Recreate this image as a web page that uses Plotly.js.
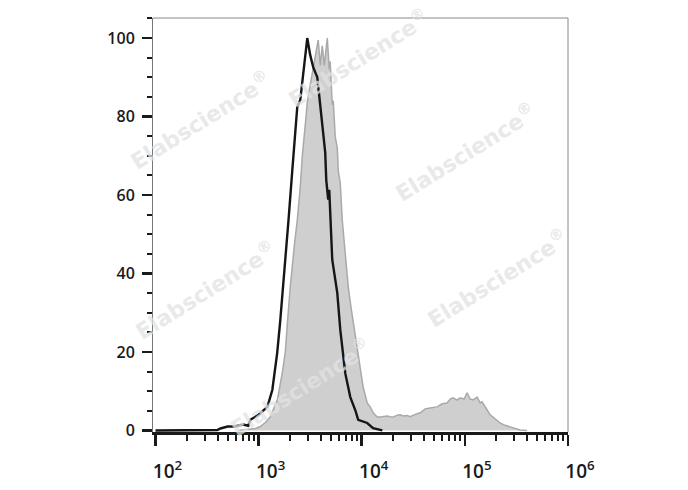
<!DOCTYPE html>
<html>
<head>
<meta charset="utf-8">
<script src="https://cdn.plot.ly/plotly-3.0.1.min.js"></script>
<style>html,body{margin:0;padding:0;background:#fff;}#chart{width:688px;height:490px;}</style>
</head>
<body>
<div id="chart"></div>
<script>
// Sample (gray filled histogram): log10 intensity and % of max
const sampleLog = [2.80, 2.891, 2.969, 3.017, 3.065, 3.114, 3.182, 3.23, 3.259, 3.278, 3.307, 3.346, 3.375, 3.404, 3.424, 3.453, 3.472, 3.50, 3.53, 3.559, 3.578, 3.598, 3.617, 3.637, 3.666, 3.685, 3.694, 3.714, 3.724, 3.743, 3.763, 3.772, 3.792, 3.811, 3.84, 3.869, 3.898, 3.918, 3.956, 3.985, 4.014, 4.053, 4.082, 4.111, 4.15, 4.179, 4.208, 4.247, 4.276, 4.305, 4.344, 4.373, 4.402, 4.44, 4.47, 4.518, 4.567, 4.615, 4.663, 4.731, 4.78, 4.828, 4.857, 4.886, 4.925, 4.954, 4.993, 5.022, 5.051, 5.08, 5.119, 5.148, 5.167, 5.196, 5.215, 5.244, 5.273, 5.312, 5.341, 5.39, 5.438, 5.487, 5.535, 5.603];
const sampleVal = [0, 0.2, 0.5, 1, 2, 3.5, 7.8, 14.7, 20, 27, 36.6, 47, 53.6, 62, 70, 78, 83.6, 88, 92.3, 96, 99.5, 93, 98, 93, 100, 92, 94, 83, 84, 74.8, 72, 66.3, 63, 53.6, 45, 36.6, 31, 27.4, 21.5, 15.4, 11, 7, 6, 4.5, 3.4, 3.4, 3.5, 3.7, 3.5, 3.4, 3.9, 4, 3.7, 3.8, 3.5, 4.1, 4.5, 5.5, 5.7, 6, 6.8, 7, 8, 8.3, 7.7, 8.3, 8, 9.6, 8, 7.8, 8.5, 7, 7.3, 6, 5.2, 4, 3.4, 2.5, 1.9, 1.3, 0.9, 0.6, 0.1, 0];

// Control (black outline histogram)
const controlLog = [2.0, 2.4, 2.6, 2.63, 2.70, 2.77, 2.85, 2.90, 2.92, 3.0, 3.085, 3.133, 3.18, 3.21, 3.23, 3.26, 3.29, 3.327, 3.356, 3.375, 3.404, 3.424, 3.453, 3.472, 3.50, 3.53, 3.569, 3.598, 3.627, 3.646, 3.656, 3.675, 3.685, 3.714, 3.763, 3.792, 3.84, 3.889, 3.937, 3.966, 4.053, 4.11, 4.2];
const controlVal = [0, 0, 0.1, 0.5, 1, 1, 1.5, 1.2, 2.7, 4, 6, 10.3, 19.7, 28, 34, 45, 53.6, 66.4, 76.6, 82.5, 84.2, 89.3, 96, 100, 95.7, 92.5, 90, 82.5, 76.6, 70.8, 63.8, 58.8, 61.3, 43.5, 35, 25.6, 14.6, 8.5, 5.2, 2.7, 1.9, 0.6, 0];

const xTickVals = [1e2, 1e3, 1e4, 1e5, 1e6];
const xTickText = ['10<sup>2</sup>', '10<sup>3</sup>', '10<sup>4</sup>', '10<sup>5</sup>', '10<sup>6</sup>'];
const yTickVals = [0, 20, 40, 60, 80, 100];

const watermarkText = 'Elabscience<sup>®</sup>';
const watermarkX = [358, 200, 465, 205, 497, 300];
const watermarkY = [58, 120, 152, 290, 278, 387];

const toLin = a => a.map(l => Math.pow(10, l));

const traces = [
  {
    x: toLin(sampleLog), y: sampleVal, type: 'scatter', mode: 'lines',
    fill: 'tozeroy', fillcolor: '#cfcfcf',
    line: {color: '#a9a9a9', width: 1.5}, hoverinfo: 'skip'
  },
  {
    x: toLin(controlLog), y: controlVal, type: 'scatter', mode: 'lines',
    line: {color: '#151515', width: 2.4}, hoverinfo: 'skip'
  }
];

const annotations = watermarkX.map((px, i) => ({
  text: watermarkText, xref: 'paper', yref: 'paper',
  x: (px - 153) / 415, y: (432 - watermarkY[i]) / 414,
  xanchor: 'center', yanchor: 'middle', showarrow: false, textangle: -32,
  font: {family: 'DejaVu Sans', size: 22, color: 'rgba(226,226,226,0.75)', weight: 'bold'}
}));

const layout = {
  width: 688, height: 490,
  margin: {l: 153, r: 120, t: 18, b: 58},
  paper_bgcolor: '#fff', plot_bgcolor: '#fff',
  showlegend: false,
  font: {family: 'Open Sans', color: '#1a1a1a'},
  xaxis: {
    type: 'log', range: [1.976, 6.0],
    tickvals: xTickVals, ticktext: xTickText,
    ticks: 'outside', ticklen: 11, tickwidth: 2.5, tickcolor: '#1a1a1a',
    minor: {dtick: 'D1', ticks: 'outside', ticklen: 6, tickwidth: 2, tickcolor: '#1a1a1a'},
    showgrid: false, zeroline: false,
    showline: true, linecolor: '#1a1a1a', linewidth: 2.5, mirror: false,
    tickfont: {size: 19, family: 'Open Sans', color: '#1a1a1a', weight: 600},
    ticklabelshift: 12, ticklabelstandoff: 10
  },
  yaxis: {
    range: [-0.4, 105.1],
    tickvals: yTickVals,
    ticks: 'outside', ticklen: 10, tickwidth: 2.5, tickcolor: '#1a1a1a',
    minor: {dtick: 5, ticks: 'outside', ticklen: 5, tickwidth: 2, tickcolor: '#1a1a1a'},
    showgrid: false, zeroline: false,
    showline: true, linecolor: '#777', linewidth: 1,
    tickfont: {size: 16, family: 'Open Sans', color: '#1a1a1a', weight: 600},
    ticklabelstandoff: 4
  },
  shapes: [
    {type: 'line', xref: 'paper', yref: 'paper', x0: 0, x1: 1, y0: 1, y1: 1, line: {color: '#888', width: 1}},
    {type: 'line', xref: 'paper', yref: 'paper', x0: 1, x1: 1, y0: 0, y1: 1, line: {color: '#888', width: 1}}
  ],
  annotations: annotations
};

Plotly.newPlot('chart', traces, layout, {staticPlot: true, displayModeBar: false});
</script>
</body>
</html>
